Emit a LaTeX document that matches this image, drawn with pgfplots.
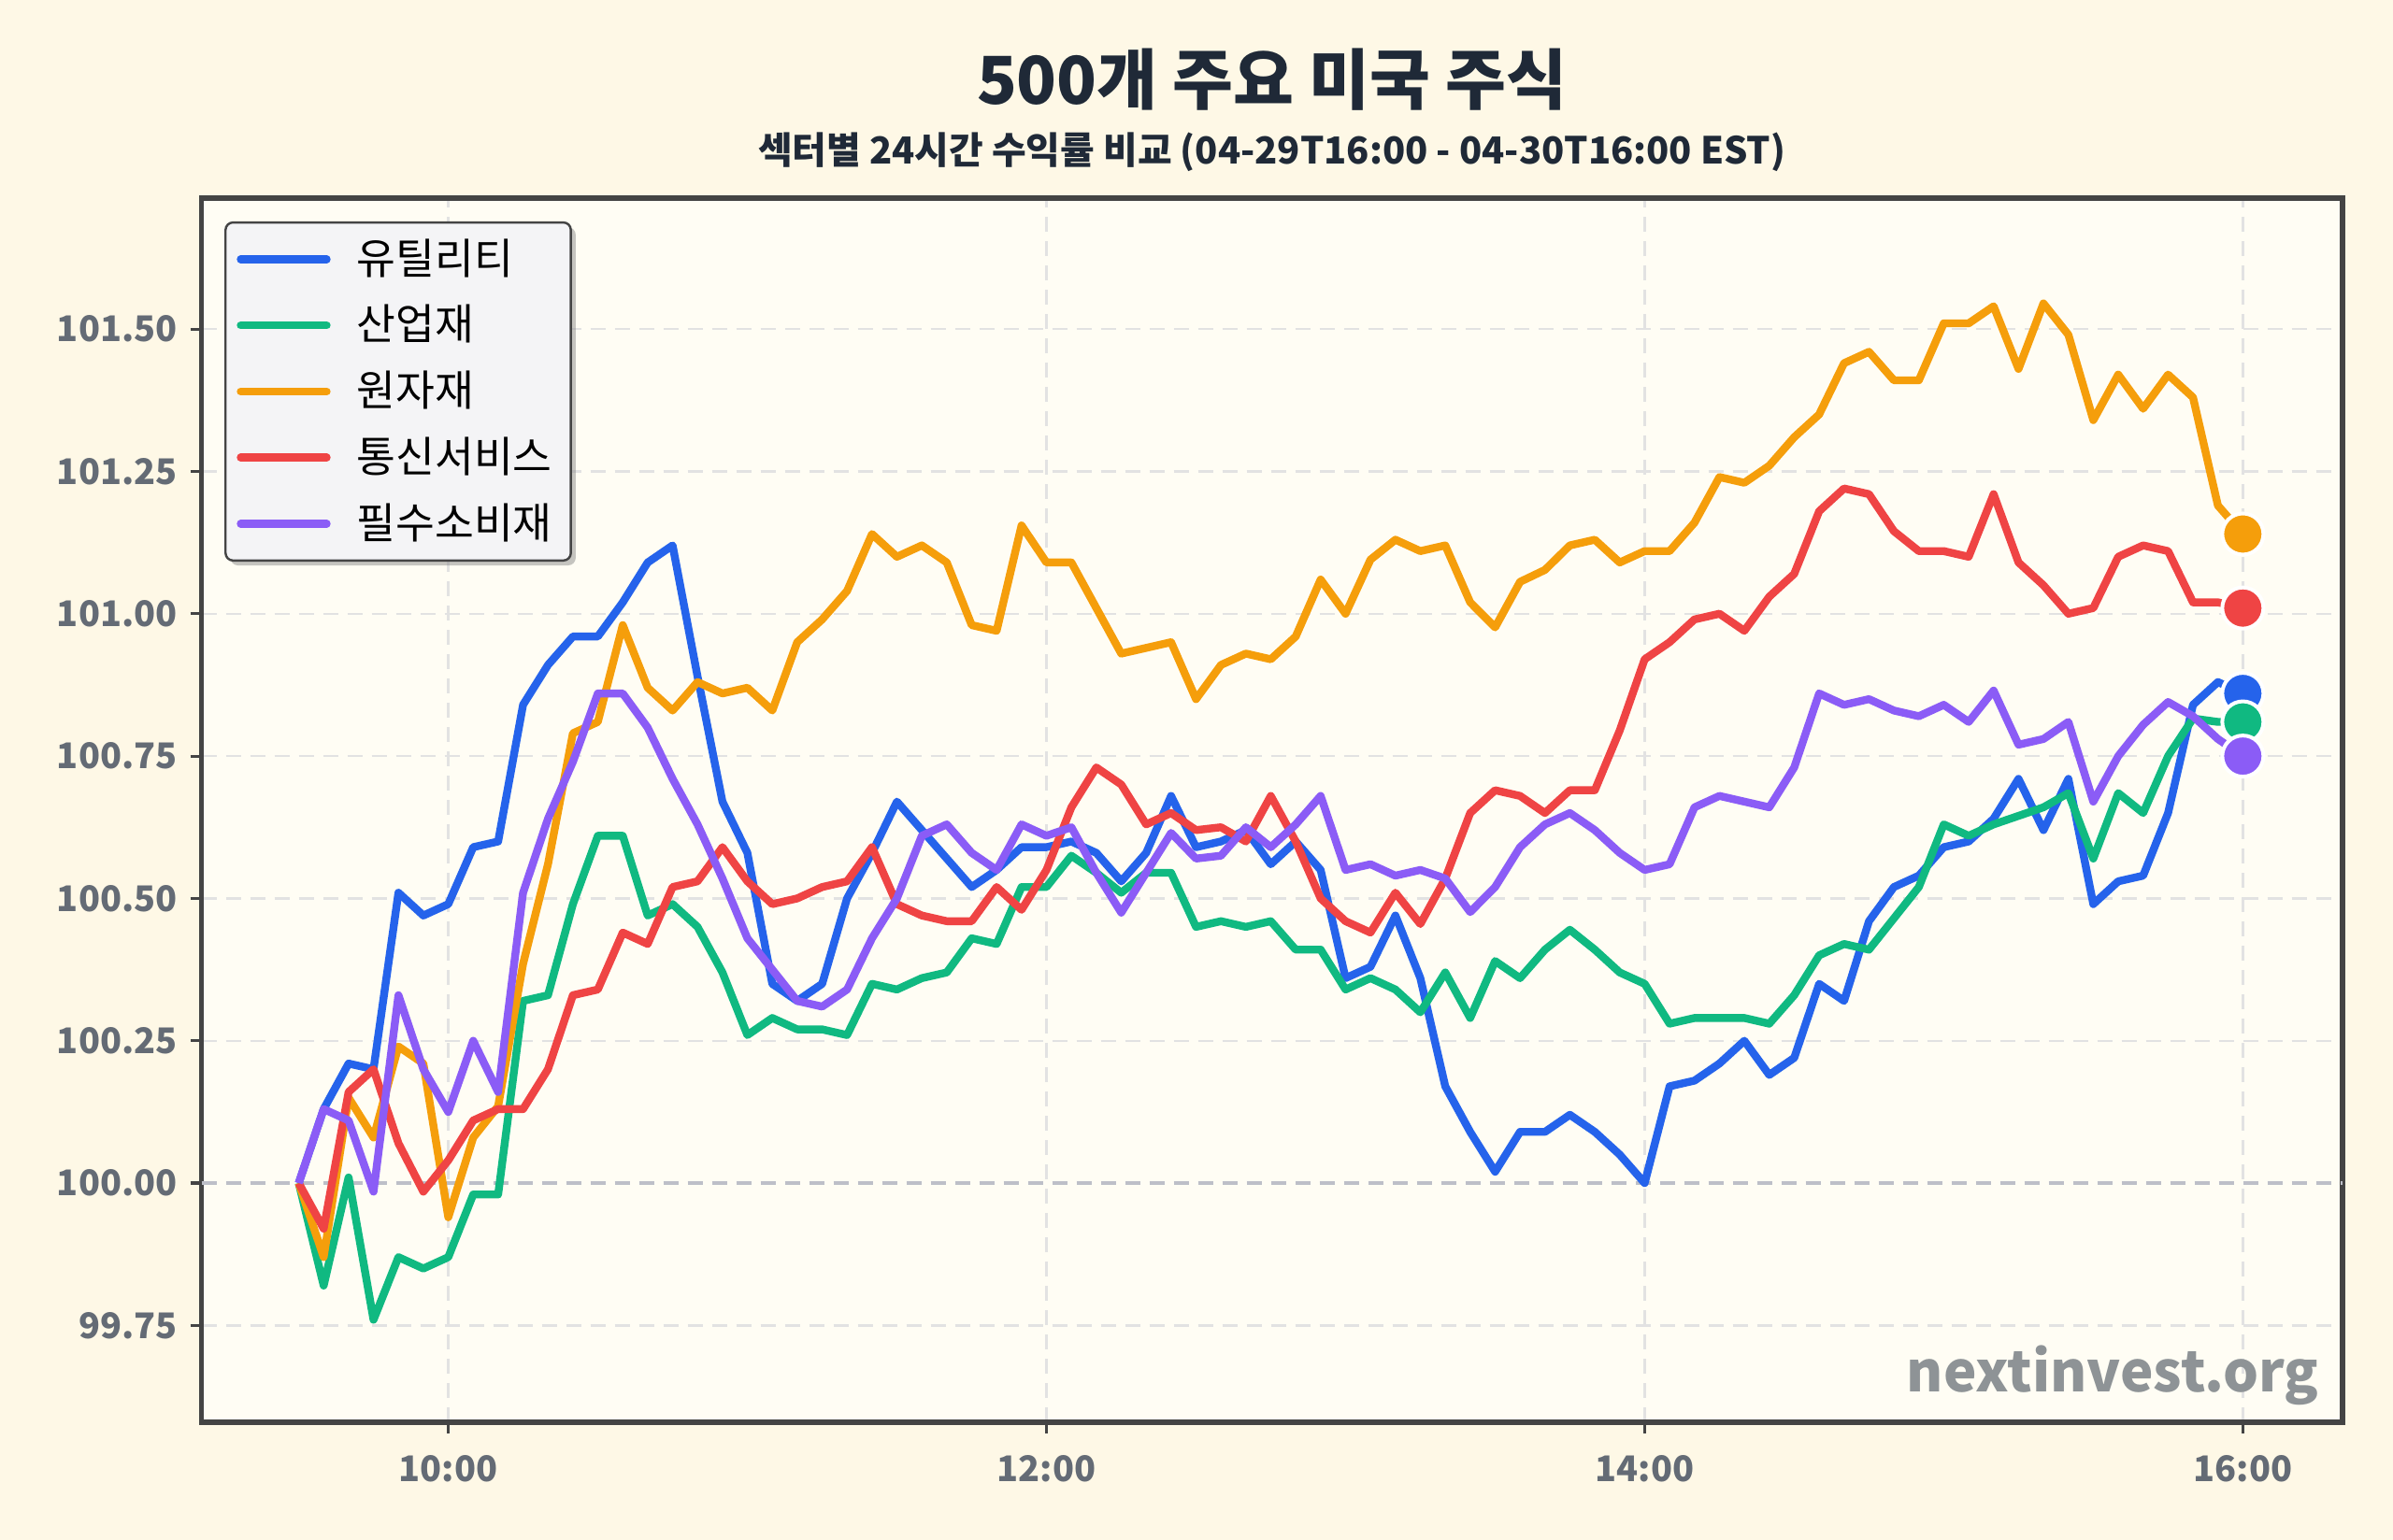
\documentclass[border=0pt]{standalone}
\usepackage{fontspec}
\setmainfont{Noto Sans CJK KR}
\usepackage{pgfplots}
\pgfplotsset{compat=1.18}
\usepackage{pgfplotstable}
\usetikzlibrary{shadows}

\definecolor{cBlue}{HTML}{2563EB}
\definecolor{cGreen}{HTML}{10B981}
\definecolor{cOrange}{HTML}{F59E0B}
\definecolor{cRed}{HTML}{EF4444}
\definecolor{cPurple}{HTML}{8B5CF6}
\definecolor{bgOuter}{HTML}{FEF8E6}
\definecolor{bgPlot}{HTML}{FFFDF4}
\definecolor{frameC}{HTML}{444444}
\definecolor{gridC}{HTML}{E2E2E2}
\definecolor{zeroC}{HTML}{BDBFC8}
\definecolor{tickC}{HTML}{646B75}
\definecolor{titleC}{HTML}{1F2937}
\definecolor{wmC}{HTML}{8E9396}
\definecolor{legC}{HTML}{F4F4F6}

\pgfplotstableread{
t u g o r p
570 100.00 100.00 100.00 100.00 100.00
575 100.13 99.82 99.87 99.92 100.13
580 100.21 100.01 100.15 100.16 100.11
585 100.20 99.76 100.08 100.20 99.985
590 100.51 99.87 100.24 100.07 100.33
595 100.47 99.85 100.21 99.985 100.20
600 100.49 99.87 99.94 100.04 100.125
605 100.59 99.98 100.08 100.11 100.25
610 100.60 99.98 100.135 100.13 100.16
615 100.84 100.32 100.385 100.13 100.51
620 100.91 100.33 100.56 100.20 100.64
625 100.96 100.49 100.79 100.33 100.74
630 100.96 100.61 100.81 100.34 100.86
635 101.02 100.61 100.98 100.44 100.86
640 101.09 100.47 100.87 100.42 100.80
645 101.12 100.49 100.83 100.52 100.71
650 100.89 100.45 100.88 100.53 100.63
655 100.67 100.37 100.86 100.59 100.535
660 100.58 100.26 100.87 100.53 100.43
665 100.35 100.29 100.83 100.49 100.375
670 100.32 100.27 100.95 100.50 100.32
675 100.35 100.27 100.99 100.52 100.31
680 100.50 100.26 101.04 100.53 100.34
685 100.58 100.35 101.14 100.59 100.43
690 100.67 100.34 101.10 100.49 100.50
695 100.62 100.36 101.12 100.47 100.61
700 100.57 100.37 101.09 100.46 100.63
705 100.52 100.43 100.98 100.46 100.58
710 100.55 100.42 100.97 100.52 100.55
715 100.59 100.52 101.155 100.48 100.63
720 100.59 100.52 101.09 100.55 100.61
725 100.60 100.575 101.09 100.66 100.625
730 100.58 100.545 101.01 100.73 100.545
735 100.53 100.51 100.93 100.70 100.475
740 100.58 100.545 100.94 100.63 100.545
745 100.68 100.545 100.95 100.65 100.615
750 100.59 100.45 100.85 100.62 100.57
755 100.60 100.46 100.91 100.625 100.575
760 100.62 100.45 100.93 100.60 100.625
765 100.56 100.46 100.92 100.68 100.59
770 100.60 100.41 100.96 100.60 100.63
775 100.55 100.41 101.06 100.50 100.68
780 100.36 100.34 101.00 100.46 100.55
785 100.38 100.36 101.095 100.44 100.56
790 100.47 100.34 101.13 100.51 100.54
795 100.36 100.30 101.11 100.455 100.55
800 100.17 100.37 101.12 100.535 100.535
805 100.09 100.29 101.02 100.65 100.476
810 100.02 100.39 100.976 100.69 100.52
815 100.09 100.36 101.056 100.68 100.59
820 100.09 100.41 101.077 100.65 100.63
825 100.12 100.445 101.12 100.69 100.65
830 100.09 100.41 101.13 100.69 100.62
835 100.05 100.37 101.09 100.795 100.58
840 100.00 100.35 101.11 100.92 100.55
845 100.17 100.28 101.11 100.95 100.56
850 100.18 100.29 101.16 100.99 100.66
855 100.21 100.29 101.24 101.00 100.68
860 100.25 100.29 101.23 100.97 100.67
865 100.19 100.28 101.26 101.03 100.66
870 100.22 100.33 101.31 101.07 100.73
875 100.35 100.40 101.35 101.18 100.86
880 100.32 100.42 101.44 101.22 100.84
885 100.46 100.41 101.46 101.21 100.85
890 100.52 100.465 101.41 101.145 100.83
895 100.54 100.52 101.41 101.11 100.82
900 100.59 100.63 101.51 101.11 100.84
905 100.60 100.61 101.51 101.10 100.81
910 100.64 100.63 101.54 101.21 100.865
915 100.71 100.645 101.43 101.09 100.77
920 100.62 100.66 101.545 101.05 100.78
925 100.71 100.685 101.49 101.00 100.81
930 100.49 100.57 101.34 101.01 100.67
935 100.53 100.685 101.42 101.10 100.75
940 100.54 100.65 101.36 101.12 100.805
945 100.65 100.75 101.42 101.11 100.845
950 100.84 100.816 101.38 101.02 100.82
955 100.88 100.81 101.19 101.02 100.78
960 100.86 100.81 101.14 101.01 100.75
}\data

\pgfplotstableread{
t u g o r p
960 100.86 100.81 101.14 101.01 100.75
}\last

\begin{document}
\begin{tikzpicture}
\useasboundingbox (0,0) rectangle (640bp,412bp);
\fill[bgOuter] (0,0) rectangle (640bp,412bp);
\begin{axis}[
  at={(53.9bp,31.5bp)}, anchor=south west,
  scale only axis, width=572.6bp, height=327.5bp,
  xmin=550.5, xmax=980, ymin=99.58, ymax=101.73,
  axis background/.style={fill=bgPlot},
  axis line style={draw=frameC, line width=1.4bp},
  xtick={600,720,840,960}, xticklabels={10:00,12:00,14:00,16:00},
  ytick={99.75,100,100.25,100.5,100.75,101,101.25,101.5},
  yticklabel style={/pgf/number format/.cd, fixed, fixed zerofill, precision=2},
  xticklabel style={yshift=-2.4bp},
  /pgf/number format/assume math mode=true,
  ticklabel style={font=\fontsize{9.5}{11}\selectfont\bfseries, text=tickC},
  tick align=outside, major tick length=3bp,
  tick style={draw=frameC, line width=0.8bp},
  xtick pos=bottom, ytick pos=left,
  grid=major,
  major grid style={dash pattern=on 4bp off 2.5bp, draw=gridC, line width=0.6bp},
  legend cell align=left,
  legend style={at={(0.0107,0.981)}, anchor=north west,
    fill=legC, draw=frameC, line width=0.6bp, rounded corners=2bp,
    drop shadow={shadow xshift=1.3bp, shadow yshift=-1.3bp, fill=black!45},
    font=\fontsize{11.4}{13}\selectfont, text=black,
    row sep=2.8bp, inner xsep=3bp, inner ysep=2.4bp,
    nodes={inner sep=2bp},
    /tikz/every odd column/.append style={column sep=5bp}},
  legend image code/.code={\begin{scope}[#1]
     \pgfsetlinewidth{2.1bp}\pgfsetroundcap
     \pgfpathmoveto{\pgfpoint{0bp}{0bp}}\pgfpathlineto{\pgfpoint{23bp}{0bp}}\pgfusepath{stroke}\end{scope}},
  every axis plot/.append style={line width=2.1bp, line join=round},
]
\addplot[forget plot, draw=zeroC, line width=0.9bp, dash pattern=on 4bp off 2.5bp] coordinates {(550.5,100) (980,100)};
\addplot[cBlue, mark=none] table[x=t, y=u] {\data};
\addlegendentry{유틸리티}
\addplot[cGreen, mark=none] table[x=t, y=g] {\data};
\addlegendentry{산업재}
\addplot[cOrange, mark=none] table[x=t, y=o] {\data};
\addlegendentry{원자재}
\addplot[cRed, mark=none] table[x=t, y=r] {\data};
\addlegendentry{통신서비스}
\addplot[cPurple, mark=none] table[x=t, y=p] {\data};
\addlegendentry{필수소비재}
\addplot[forget plot, only marks, mark=*, mark size=5.5bp, mark options={draw=white, fill=cBlue, line width=1bp}] table[x=t, y=u] {\last};
\addplot[forget plot, only marks, mark=*, mark size=5.5bp, mark options={draw=white, fill=cGreen, line width=1bp}] table[x=t, y=g] {\last};
\addplot[forget plot, only marks, mark=*, mark size=5.5bp, mark options={draw=white, fill=cOrange, line width=1bp}] table[x=t, y=o] {\last};
\addplot[forget plot, only marks, mark=*, mark size=5.5bp, mark options={draw=white, fill=cRed, line width=1bp}] table[x=t, y=r] {\last};
\addplot[forget plot, only marks, mark=*, mark size=5.5bp, mark options={draw=white, fill=cPurple, line width=1bp}] table[x=t, y=p] {\last};
\node[anchor=base east, font=\fontsize{15}{17}\selectfont\bfseries, text=wmC, inner sep=0pt] at (rel axis cs:0.9893,0.025) {nextinvest.org};
\end{axis}
\node[font=\fontsize{17.7}{20}\selectfont\bfseries, text=titleC, inner sep=0pt] at (340.2bp,390.8bp) {500개 주요 미국 주식};
\node[font=\fontsize{10}{12}\selectfont\bfseries, text=titleC, inner sep=0pt] at (340.2bp,371.2bp) {섹터별 24시간 수익률 비교 (04-29T16:00 - 04-30T16:00 EST)};
\end{tikzpicture}
\end{document}
